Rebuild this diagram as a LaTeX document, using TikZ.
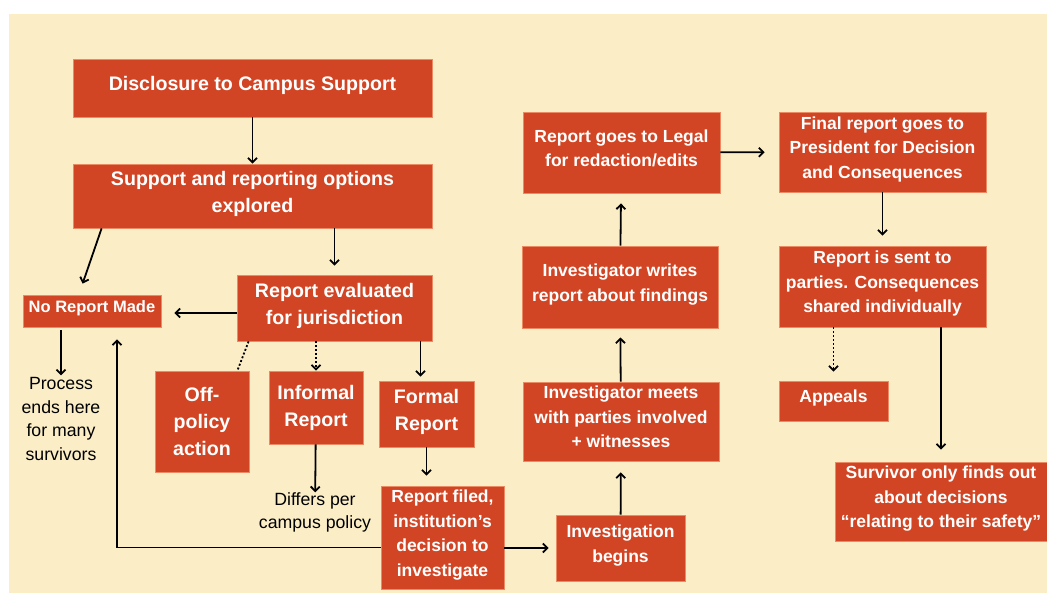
\documentclass[tikz,border=0pt]{standalone}
\usepackage{fontspec}
\setmainfont{Liberation Sans}
\setsansfont{Liberation Sans}
\usepackage{tikz}
\usetikzlibrary{
  arrows.meta,
  positioning,  % Function "of" (e.g. [right=of x])
}
\definecolor{paper}{HTML}{FBEEC7}
\definecolor{brick}{HTML}{D14524}
\definecolor{brickedge}{HTML}{EC8A64}
\def\mybigfont{\fontsize{19.6}{27}\selectfont\bfseries}
\def\mysmallfont{\fontsize{17.5}{24.5}\selectfont\bfseries}
\def\mytinyfont{\fontsize{16.5}{20}\selectfont\bfseries}
\def\mynotefont{\fontsize{17.7}{23.5}\selectfont}
\def\mylift{9pt}
\tikzset{
  font=\sffamily,
  >={Straight Barb[length=4.5pt,width=9pt]},
  box size/.style 2 args={
    minimum width=#1,
    minimum height=#2
  },
  my box/.style={
    draw=brickedge,
    fill=brick,
    line width=0.8pt,
    text=white,
    align=center,
    inner sep=1pt,
    % deeper last line, so the text sits a bit high in the box
    execute at end node={\rule[-\mylift]{0pt}{\mylift}},
    rectangle
  },
  no lift/.style={
    execute at begin node={\def\mylift{0pt}}
  },
  my big box/.style={
    my box,
    font=\sffamily\mybigfont
  },
  my small box/.style={
    my box,
    font=\sffamily\mysmallfont
  },
  my tiny box/.style={
    my box,
    font=\sffamily\mytinyfont
  },
  my note/.style={
    align=center,
    inner sep=0pt,
    font=\sffamily\mynotefont
  },
  my line/.style={
    ->,
    line width=1.8pt
  },
  my dotted/.style={
    my line,
    dash pattern=on 2pt off 2pt
  }
}

\begin{document}
\begin{tikzpicture}[x=1pt,y=-1pt]
\fill[white] (0,0) rectangle (1047,593);
\fill[paper] (9,14) rectangle (1047,593);
\useasboundingbox (0,0) rectangle (1047,593);

% left column
\node[my big box, box size={359}{58}] (disclosure) at (252.5,88) {Disclosure to Campus Support};
\node[my big box, box size={359}{64}] (options) at (252.5,196) {Support and reporting options\\explored};
\node[my big box, box size={195}{66}] (evaluated) at (334.5,308) {Report evaluated\\for jurisdiction};
\node[my tiny box, box size={138}{32}] (noreport) at (92,311) {No Report Made};
\node[my big box, no lift, box size={94}{101}] (offpolicy) at (202,421.5) {Off-\\policy\\action};
\node[my big box, no lift, box size={94}{73}] (informal) at (316,407.5) {Informal\\Report};
\node[my big box, box size={95}{66}] (formal) at (426.5,414) {Formal\\Report};
\node[my small box, box size={123}{103}] (filed) at (442.5,537.5) {Report filed,\\institution’s\\decision to\\investigate};
\node[my note] (process) at (61,419) {Process\\ends here\\for many\\survivors};
\node[my note] (differs) at (315,512.5) {Differs per\\campus policy};

% investigation column
\node[my small box, box size={129}{66}] (begins) at (620.5,548) {Investigation\\begins};
\node[my small box, box size={196}{79}] (meets) at (621,421.5) {Investigator meets\\with parties involved\\+ witnesses};
\node[my small box, box size={196}{82}] (writes) at (620,287) {Investigator writes\\report about findings};
\node[my small box, box size={197}{81}] (legal) at (621.5,152.5) {Report goes to Legal\\for redaction/edits};

% decision column
\node[my small box, box size={207}{80}] (final) at (882.5,152) {Final report goes to\\President for Decision\\and Consequences};
\node[my small box, box size={207}{81}] (sent) at (882.5,286.5) {Report is sent to\\parties. Consequences\\shared individually};
\node[my small box, box size={109}{40}] (appeals) at (833.5,401) {Appeals};
\node[my small box, box size={212}{79}] (survivor) at (941,501.5) {Survivor only finds out\\about decisions\\“relating to their safety”};

\draw[my line] (disclosure) -- (options);
\draw[my line] ([xshift=29pt]options.south west) -- ([xshift=60pt,yshift=11pt]noreport.north west);
\draw[my line, shorten >=9pt] (options.south -| evaluated.north) -- (evaluated.north);
\draw[my line, shorten >=13pt] ([yshift=-5pt]evaluated.west) -- ([yshift=-5pt]evaluated.west -| noreport.east);
\draw[my line, shorten <=3pt, shorten >=2pt] (noreport.south -| process.north) -- (process.north);
\draw[my dotted, -] ([xshift=12pt]evaluated.south west) -- ([xshift=-12pt]offpolicy.north east);
\draw[my dotted] (evaluated.south -| informal.north) -- (informal.north);
\draw[my line, shorten >=4pt] ([xshift=-6pt]evaluated.south -| formal.north) -- ([xshift=-6pt]formal.north);
\draw[my line] (informal) -- (differs);
\draw[my line, shorten >=10pt] (formal.south) -- (formal.south |- filed.north);
\draw[my line, shorten >=12pt] ([yshift=-10pt]filed.west) -| ([xshift=25pt]noreport.south);
\draw[my line, shorten >=7pt] (filed.east |- begins.west) -- (begins.west);
\draw[my line, shorten >=11pt] (begins) -- (meets);
\draw[my line, shorten >=9pt] (meets) -- (writes);
\draw[my line, shorten >=10pt] (writes) -- (legal);
\draw[my line, shorten >=14pt] (legal) -- (final);
\draw[my line, shorten >=10pt] (final) -- (sent);
\draw[my dotted, shorten >=9pt] (sent.south -| appeals.north) -- (appeals.north);
\draw[my line, shorten >=12pt] (sent.south -| survivor.north) -- (survivor.north);
\end{tikzpicture}
\end{document}
